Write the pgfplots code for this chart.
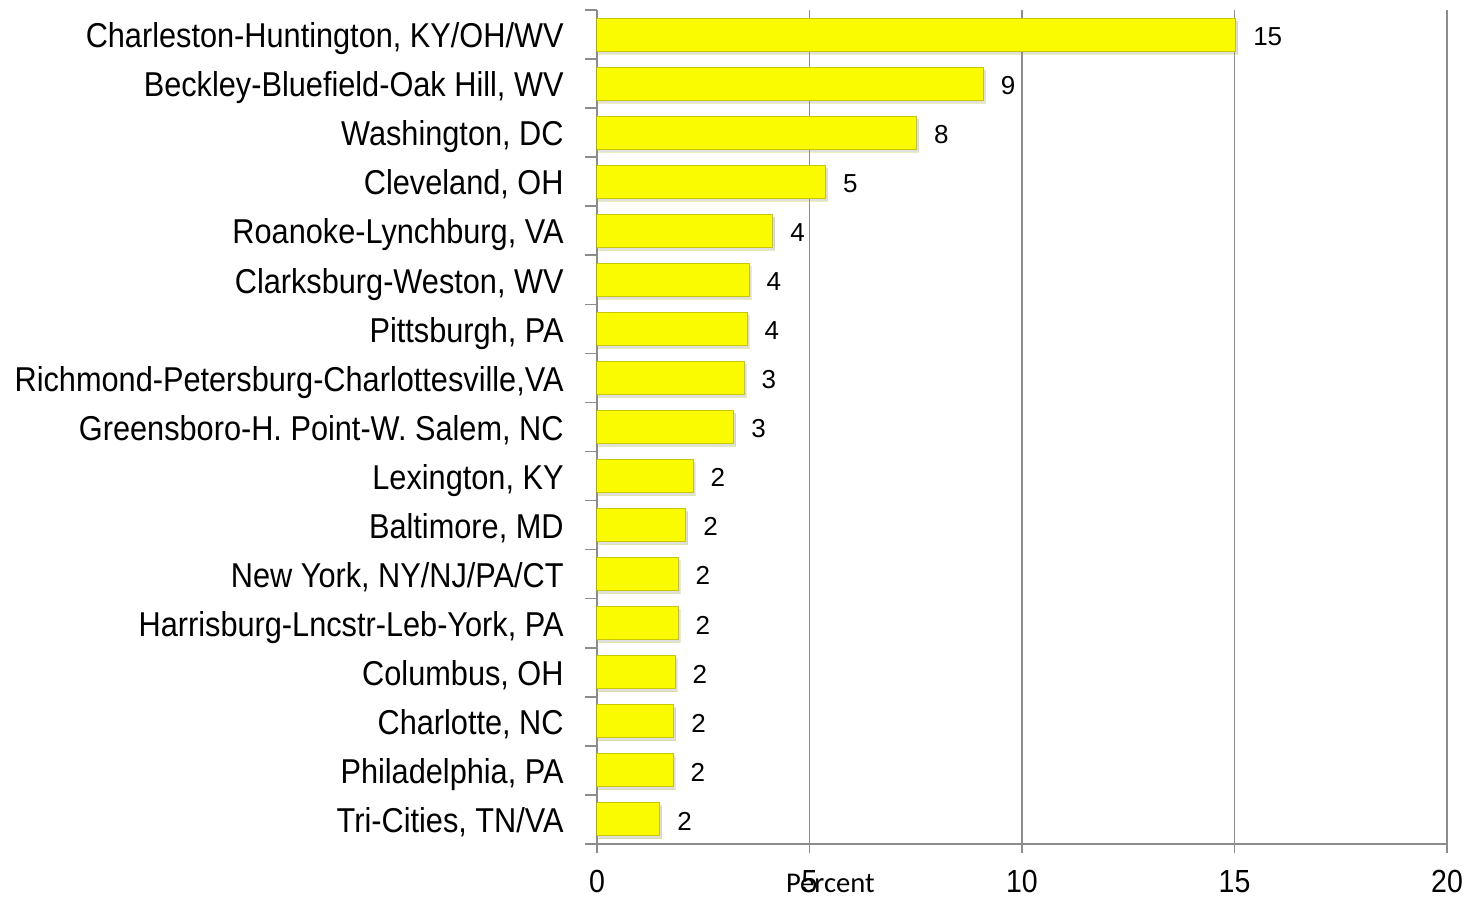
\documentclass[border=0pt]{standalone}
\usepackage{pgfplots}
\pgfplotsset{compat=1.18}
\usepackage{pgfplotstable}
\usepackage{fontspec}
\setmainfont{Liberation Sans}
\newfontfamily\narrowfont{Liberation Sans}[FakeStretch=0.89]
\newfontfamily\calibri{Carlito}
\usetikzlibrary{shadows}
\definecolor{baryellow}{RGB}{250,250,0}
\definecolor{baredge}{RGB}{200,200,0}
\definecolor{gridgray}{RGB}{140,140,140}
\pgfplotstableread{
y x lab
16 15.03 15
15 9.09 9
14 7.52 8
13 5.38 5
12 4.14 4
11 3.58 4
10 3.53 4
9 3.46 3
8 3.22 3
7 2.26 2
6 2.09 2
5 1.91 2
4 1.91 2
3 1.84 2
2 1.81 2
1 1.79 2
0 1.48 2
}\datatable
\begin{document}
\begin{tikzpicture}
\path[use as bounding box] (-298.5pt,-26.5pt) rectangle (439.5pt,422pt);
\begin{axis}[
  at={(0,0)}, anchor=south west,
  scale only axis, width=425pt, height=417pt,
  xbar, bar width=16.5pt,
  xmin=0, xmax=20, ymin=-0.5, ymax=16.5,
  axis x line*=bottom, axis y line*=left,
  axis line style={gridgray, line width=0.8pt, -},
  tick align=outside,
  xtick={0,5,10,15,20},
  major tick length=4.5pt,
  minor tick length=6pt,
  xtick style={gridgray, line width=0.8pt},
  xmajorgrids, major grid style={gridgray, line width=0.8pt},
  ytick={0,...,16},
  ytick style={draw=none},
  minor ytick={-0.5,0.5,...,16.5},
  minor y tick style={draw=gridgray, line width=0.8pt},
  yticklabels={{Tri-Cities, TN/VA}, {Philadelphia, PA}, {Charlotte, NC}, {Columbus, OH},
    {Harrisburg-Lncstr-Leb-York, PA}, {New York, NY/NJ/PA/CT}, {Baltimore, MD}, {Lexington, KY},
    {Greensboro-H. Point-W. Salem, NC}, {Richmond-Petersburg-Charlottesville,VA}, {Pittsburgh, PA},
    {Clarksburg-Weston, WV}, {Roanoke-Lynchburg, VA}, {Cleveland, OH}, {Washington, DC},
    {Beckley-Bluefield-Oak Hill, WV}, {Charleston-Huntington, KY/OH/WV}},
  yticklabel style={font=\narrowfont\fontsize{17.25}{20}\selectfont, inner sep=0pt, anchor=base east, xshift=-12pt, yshift=-6.6pt},
  /pgf/number format/assume math mode=true,
  xticklabel style={font=\narrowfont\fontsize{16}{19}\selectfont, inner sep=0pt, anchor=base, yshift=-20pt},
  xlabel={Percent},
  xlabel style={font=\calibri\fontsize{14.3}{16}\selectfont, at={(axis description cs:0.2745,0)}, anchor=base, yshift=-24.3pt, inner sep=0pt},
  point meta=explicit symbolic,
  nodes near coords,
  every node near coord/.append style={font=\fontsize{13}{15}\selectfont, anchor=base west, inner sep=0pt, xshift=8.5pt, yshift=-5.4pt, black},
]
\addplot[fill=baryellow, draw=baredge, line width=0.5pt,
  drop shadow={shadow xshift=1pt, shadow yshift=-1.5pt, opacity=0.25}]
  table[x=x, y=y, meta=lab] {\datatable};
\end{axis}
\end{tikzpicture}
\end{document}
